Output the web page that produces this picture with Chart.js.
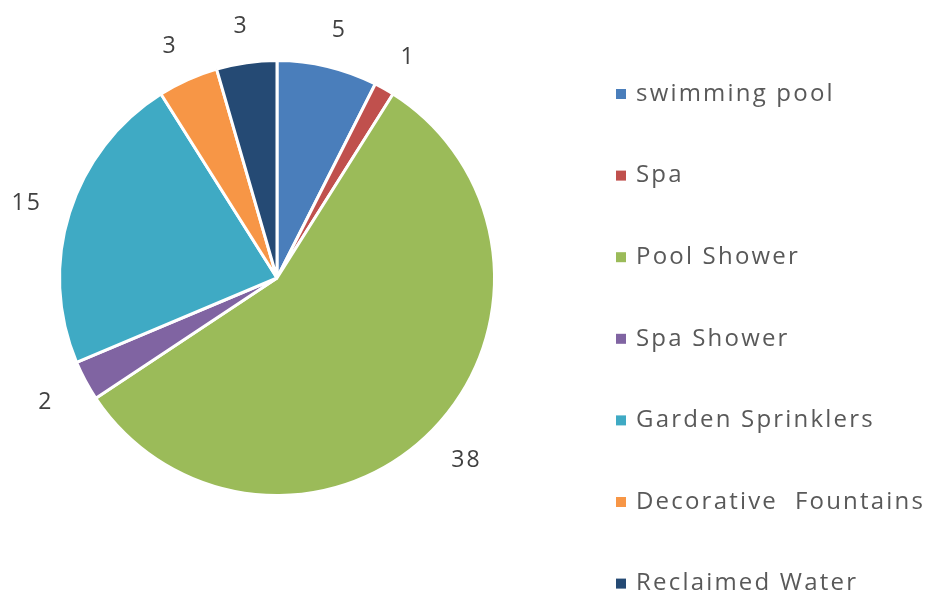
<!DOCTYPE html>
<html>
<head>
<meta charset="utf-8">
<script src="https://cdn.jsdelivr.net/npm/chart.js@4.4.1/dist/chart.umd.min.js"></script>
<style>
  html, body { margin: 0; padding: 0; background: #fff; }
  #wrap { width: 928px; height: 598px; position: relative; }
</style>
</head>
<body>
<div id="wrap"><canvas id="pie"></canvas></div>
<script>
const categories = ['swimming pool', 'Spa', 'Pool Shower', 'Spa Shower', 'Garden Sprinklers', 'Decorative  Fountains', 'Reclaimed Water']
const values = [5, 1, 38, 2, 15, 3, 3]
const colors = ['#4A7EBB', '#C0504D', '#9BBB59', '#8064A2', '#3FAAC4', '#F79646', '#254A74']

const FONT = "'Open Sans', 'DejaVu Sans', sans-serif"

// value labels just outside each slice
const outsideLabels = {
  id: 'outsideLabels',
  afterDatasetsDraw(chart) {
    const ctx = chart.ctx
    const meta = chart.getDatasetMeta(0)
    ctx.save()
    ctx.font = `23px ${FONT}`
    ctx.letterSpacing = '2px'
    ctx.fillStyle = '#404040'
    ctx.textAlign = 'center'
    ctx.textBaseline = 'middle'
    meta.data.forEach((arc, i) => {
      const { x, y, startAngle, endAngle, outerRadius } = arc.getProps(['x', 'y', 'startAngle', 'endAngle', 'outerRadius'], true)
      const mid = (startAngle + endAngle) / 2
      const r = outerRadius + 40
      const lx = x + Math.cos(mid) * (r + 6) + 1
      const ly = y + Math.sin(mid) * r + 3
      ctx.fillText(String(chart.data.datasets[0].data[i]), lx, ly)
    })
    ctx.restore()
  }
}

// Excel-style legend, one item per row on the right
const sideLegend = {
  id: 'sideLegend',
  afterDraw(chart) {
    const ctx = chart.ctx
    const ds = chart.data.datasets[0]
    ctx.save()
    ctx.font = `24px ${FONT}`
    ctx.letterSpacing = '2.2px'
    ctx.textBaseline = 'middle'
    chart.data.labels.forEach((lab, i) => {
      const y = 94 + i * 81.6
      ctx.fillStyle = ds.backgroundColor[i]
      ctx.fillRect(616, y - 5, 10, 10)
      ctx.fillStyle = '#595959'
      ctx.fillText(lab, 636, y)
    })
    ctx.restore()
  }
}

new Chart(document.getElementById('pie'), {
  type: 'pie',
  data: {
    labels: categories,
    datasets: [{
      data: values,
      backgroundColor: colors,
      borderColor: '#ffffff',
      borderWidth: 3,
    }],
  },
  options: {
    responsive: true,
    maintainAspectRatio: false,
    animation: false,
    layout: { padding: { left: 58, top: 59, right: 432, bottom: 101 } },
    plugins: {
      legend: { display: false },
      tooltip: { enabled: false },
    },
  },
  plugins: [outsideLabels, sideLegend],
})
</script>
</body>
</html>
